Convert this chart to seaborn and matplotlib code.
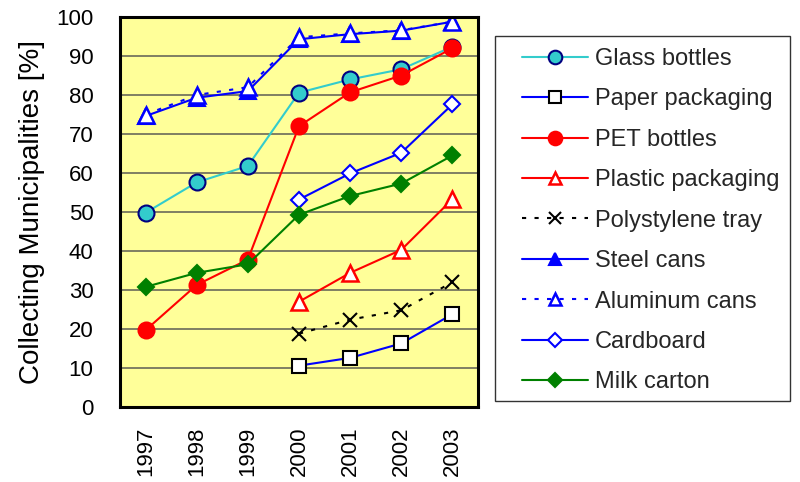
import matplotlib
matplotlib.use("Agg")
import matplotlib.pyplot as plt
from matplotlib.patches import Rectangle
import seaborn as sns
import pandas as pd
import numpy as np

sns.set_theme(style="white")
plt.rcParams["font.family"] = ["Liberation Sans", "DejaVu Sans"]

years = ["1997", "1998", "1999", "2000", "2001", "2002", "2003"]

glass_bottles = [49.8, 57.6, 61.8, 80.6, 84.0, 86.6, 92.4]
paper_packaging = [None, None, None, 10.6, 12.6, 16.3, 23.8]
pet_bottles = [19.7, 31.3, 37.8, 72.0, 80.7, 85.0, 92.0]
plastic_packaging = [None, None, None, 27.0, 34.4, 40.3, 53.3]
polystylene_tray = [None, None, None, 18.8, 22.4, 24.8, 32.0]
steel_cans = [74.6, 79.3, 81.0, 94.3, 95.6, 96.5, 98.8]
aluminum_cans = [75.0, 80.0, 82.0, 94.8, 95.8, 96.6, 98.8]
cardboard = [None, None, None, 53.2, 59.9, 65.2, 77.6]
milk_carton = [30.8, 34.4, 36.6, 49.3, 54.1, 57.3, 64.5]

series = [
    ("Glass bottles", glass_bottles,
     dict(color="#33CCCC", marker="o", markersize=11.5, markerfacecolor="#33CCCC",
          markeredgecolor="#000080", markeredgewidth=1.5, linestyle="-")),
    ("Paper packaging", paper_packaging,
     dict(color="#0000FF", marker="s", markersize=10.5, markerfacecolor="white",
          markeredgecolor="black", markeredgewidth=1.5, linestyle="-")),
    ("PET bottles", pet_bottles,
     dict(color="#FF0000", marker="o", markersize=11.5, markerfacecolor="#FF0000",
          markeredgecolor="#FF0000", markeredgewidth=1.5, linestyle="-")),
    ("Plastic packaging", plastic_packaging,
     dict(color="#FF0000", marker="^", markersize=11, markerfacecolor="white",
          markeredgecolor="#FF0000", markeredgewidth=1.8, linestyle="-")),
    ("Polystylene tray", polystylene_tray,
     dict(color="black", marker="x", markersize=10.5, markerfacecolor="black",
          markeredgecolor="black", markeredgewidth=1.5, linestyle=(0, (2, 4)))),
    ("Steel cans", steel_cans,
     dict(color="#0000FF", marker="^", markersize=11, markerfacecolor="#0000FF",
          markeredgecolor="#0000FF", markeredgewidth=1.5, linestyle="-")),
    ("Aluminum cans", aluminum_cans,
     dict(color="#0000FF", marker="^", markersize=11, markerfacecolor="white",
          markeredgecolor="#0000FF", markeredgewidth=1.8, linestyle=(0, (2, 4)))),
    ("Cardboard", cardboard,
     dict(color="#0000FF", marker="D", markersize=8.5, markerfacecolor="white",
          markeredgecolor="#0000FF", markeredgewidth=1.5, linestyle="-")),
    ("Milk carton", milk_carton,
     dict(color="#008000", marker="D", markersize=8.5, markerfacecolor="#008000",
          markeredgecolor="#008000", markeredgewidth=1.5, linestyle="-")),
]

W, H = 800, 482
fig = plt.figure(figsize=(W / 100, H / 100), dpi=100)
ax = fig.add_axes([120 / W, 1 - 407 / H, 358 / W, 390 / H])
ax.set_facecolor("#FFFF99")

for label, values, style in series:
    df = pd.DataFrame({"pos": np.arange(len(years)), "value": values}).dropna()
    sns.lineplot(data=df, x="pos", y="value", ax=ax, label=label,
                 linewidth=1.5, legend=False, **style)

ax.set_xlim(-0.5, len(years) - 0.5)
ax.set_ylim(0, 100)
ax.set_xticks(range(len(years)))
ax.set_xticklabels(years, rotation=90, fontsize=16)
ax.set_yticks(range(0, 101, 10))
ax.tick_params(axis="y", labelsize=16, length=0, pad=19)
ax.tick_params(axis="x", length=0, pad=14)
for t in ax.get_yticklabels() + ax.get_xticklabels():
    t.set_color("black")
ax.yaxis.grid(True, color="#6A6A5A", linewidth=1.2)
ax.set_axisbelow(True)
ax.set_xlabel("")
ax.set_ylabel("Collecting Municipalities [%]", fontsize=20, color="black", labelpad=8)
for sp in ax.spines.values():
    sp.set_visible(True)
    sp.set_color("black")
    sp.set_linewidth(2.2)

# legend frame box on the right
fig.patches.append(Rectangle((495 / W, 1 - 401 / H), 295 / W, 365 / H,
                             transform=fig.transFigure, facecolor="white",
                             edgecolor="#333333", linewidth=1.0, zorder=0))

handles, labels = ax.get_legend_handles_labels()
leg = fig.legend(handles, labels, loc="upper left",
                 bbox_to_anchor=(522 / W, 1 - 48 / H),
                 bbox_transform=fig.transFigure, fontsize=17, frameon=False,
                 labelspacing=0.78, handlelength=2.8, borderpad=0,
                 handletextpad=0.28, borderaxespad=0, markerscale=0.85)

fig.savefig("out.png", dpi=100)
